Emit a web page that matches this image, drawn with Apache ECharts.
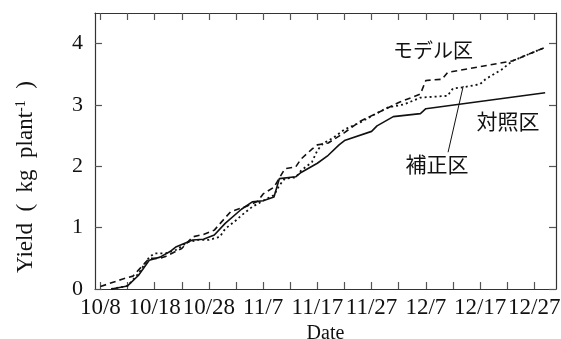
<!DOCTYPE html>
<html>
<head>
<meta charset="utf-8">
<script src="https://cdn.jsdelivr.net/npm/echarts@6/dist/echarts.min.js"></script>
<style>
  html, body { margin: 0; padding: 0; background: #fff; }
  #chart { width: 561px; height: 339px; }
</style>
</head>
<body>
<div id="chart"></div>
<script>
// Day offsets counted from 10/8; date labels every 10 days, ticks every 5.
const labelDays = [0, 10, 20, 30, 40, 50, 60, 70, 80];
const dateLabels = ['10/8', '10/18', '10/28', '11/7', '11/17', '11/27', '12/7', '12/17', '12/27'];
const tickDays = [0, 5, 10, 15, 20, 25, 30, 35, 40, 45, 50, 55, 60, 65, 70, 75, 80];
const yTicks = [0, 1, 2, 3, 4];

// 対照区 (control plot) – cumulative yield, kg per plant
const controlDays = [2, 5, 7, 9, 11, 13, 14, 17, 19, 21, 23, 26, 28, 30, 32, 33, 36, 37, 40, 42, 44, 45, 50, 51, 54, 59, 60, 82];
const controlYield = [0.00, 0.05, 0.22, 0.47, 0.52, 0.62, 0.69, 0.80, 0.81, 0.88, 1.07, 1.30, 1.42, 1.44, 1.50, 1.80, 1.83, 1.90, 2.05, 2.18, 2.35, 2.42, 2.57, 2.66, 2.81, 2.86, 2.94, 3.20];

// モデル区 (model plot)
const modelDays = [0, 4, 6, 9, 11, 12, 15, 17, 19, 21, 24, 27, 29, 30, 32, 34, 36, 37, 39, 40, 42, 45, 48, 52, 55, 59, 60, 63, 64, 76, 82];
const modelYield = [0.04, 0.16, 0.21, 0.50, 0.50, 0.53, 0.66, 0.85, 0.89, 0.96, 1.26, 1.35, 1.43, 1.55, 1.66, 1.96, 1.99, 2.12, 2.28, 2.35, 2.38, 2.55, 2.74, 2.91, 3.04, 3.18, 3.40, 3.42, 3.53, 3.72, 3.94];

// 補正区 (corrected plot)
const correctedDays = [2, 5, 7, 9, 10, 12, 14, 16, 18, 20, 22, 23, 25, 26, 28, 30, 32, 33, 34, 36, 37, 39, 40, 41, 43, 45, 48, 50, 53, 56, 59, 64, 65, 67, 70, 71, 74, 76, 82];
const correctedYield = [0.00, 0.05, 0.25, 0.52, 0.58, 0.58, 0.64, 0.76, 0.80, 0.80, 0.85, 0.98, 1.12, 1.20, 1.34, 1.44, 1.53, 1.69, 1.80, 1.82, 1.93, 2.07, 2.26, 2.37, 2.47, 2.60, 2.72, 2.82, 2.96, 3.01, 3.12, 3.15, 3.27, 3.29, 3.34, 3.42, 3.58, 3.72, 3.94];

// Leader line from the 補正区 label to its curve
const leaderDays = [64.1, 66.9];
const leaderYield = [2.23, 3.31];

const zip = (xs, ys) => xs.map((x, i) => [x, ys[i]]);

const serif = '"Liberation Serif", "Times New Roman", "DejaVu Serif", serif';
const cjk = '"Noto Sans CJK JP", "Noto Sans CJK SC", sans-serif';
const ink = '#111';

const chart = echarts.init(document.getElementById('chart'), null, { renderer: 'canvas' });

const baseX = {
  type: 'value', min: -1, max: 84,
  axisLine: { show: true, onZero: false, lineStyle: { color: '#333', width: 1.2 } },
  axisTick: { show: true, inside: true, length: 7, customValues: tickDays, lineStyle: { color: '#555', width: 1.2 } },
  splitLine: { show: false }
};
const baseY = {
  type: 'value', min: 0, max: 4.5,
  axisLine: { show: true, onZero: false, lineStyle: { color: '#333', width: 1.2 } },
  axisTick: { show: true, inside: true, length: 7, customValues: yTicks, lineStyle: { color: '#555', width: 1.2 } },
  splitLine: { show: false }
};

const lineSeries = (name, data, type, width) => ({
  name, type: 'line', data, symbol: 'none', smooth: false,
  lineStyle: { color: ink, width, type },
  z: 3
});

chart.setOption({
  animation: false,
  backgroundColor: '#fff',
  grid: { left: 95, right: 5, top: 13, bottom: 50, outerBoundsMode: 'none', containLabel: false },
  xAxis: [
    Object.assign({}, baseX, {
      position: 'bottom',
      name: 'Date', nameLocation: 'middle', nameGap: 35,
      nameTextStyle: { fontFamily: serif, fontSize: 20, color: ink },
      axisLabel: {
        show: true, margin: 7, customValues: labelDays,
        fontFamily: serif, fontSize: 23, color: ink,
        formatter: v => dateLabels[labelDays.indexOf(v)] || ''
      }
    }),
    Object.assign({}, baseX, { position: 'top', axisLabel: { show: false } })
  ],
  yAxis: [
    Object.assign({}, baseY, {
      position: 'left',
      axisLabel: {
        show: true, margin: 12, customValues: yTicks,
        fontFamily: serif, fontSize: 22, color: ink
      }
    }),
    Object.assign({}, baseY, { position: 'right', axisLabel: { show: false } })
  ],
  series: [
    lineSeries('対照区', zip(controlDays, controlYield), 'solid', 1.6),
    lineSeries('モデル区', zip(modelDays, modelYield), [6, 4], 1.6),
    Object.assign(lineSeries('補正区', zip(correctedDays, correctedYield), [2, 3], 1.8), {
      markLine: {
        silent: true, symbol: 'none', animation: false,
        label: { show: false },
        lineStyle: { color: ink, width: 1, type: 'solid' },
        data: [[{ coord: [leaderDays[0], leaderYield[0]] }, { coord: [leaderDays[1], leaderYield[1]] }]]
      }
    })
  ],
  graphic: [
    {
      type: 'text', x: 26, y: 177, rotation: Math.PI / 2,
      style: {
        text: 'Yield\u2002(\u2002kg\u2002plant{sup|-1}\u2002)',
        font: '23px ' + serif, fill: ink,
        align: 'center', verticalAlign: 'middle',
        rich: { sup: { fontSize: 14, fontFamily: serif, verticalAlign: 'top', padding: [0, 0, 9, 0], fill: ink } }
      }
    },
    { type: 'text', x: 433, y: 50, style: { text: 'モデル区', font: '20px ' + cjk, fill: ink, align: 'center', verticalAlign: 'middle' } },
    { type: 'text', x: 508, y: 121, style: { text: '対照区', font: '21px ' + cjk, fill: ink, align: 'center', verticalAlign: 'middle' } },
    { type: 'text', x: 437, y: 164, style: { text: '補正区', font: '21px ' + cjk, fill: ink, align: 'center', verticalAlign: 'middle' } }
  ]
});
</script>
</body>
</html>
